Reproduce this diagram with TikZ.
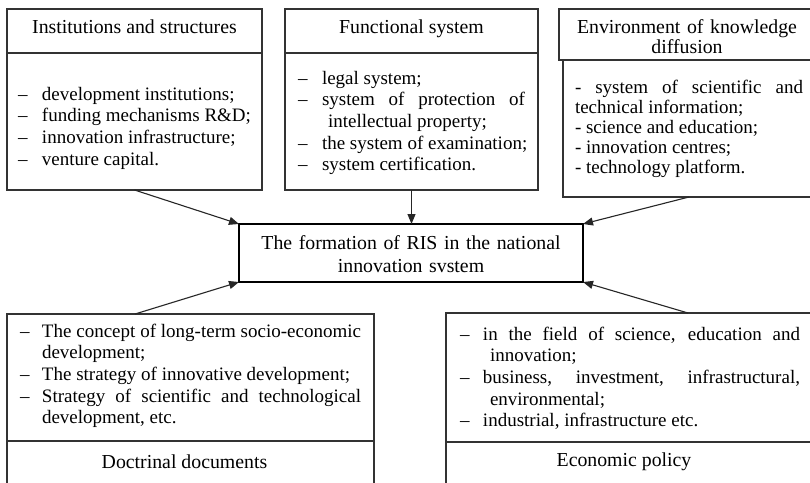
\documentclass[tikz,border=0pt]{standalone}
\usepackage{fontspec}
\setmainfont{Liberation Serif}
\usetikzlibrary{arrows.meta}
\hyphenpenalty=10000
\exhyphenpenalty=10000
\newcommand{\bodyfont}{\fontsize{19pt}{21.7pt}\selectfont\tolerance=10000\hyphenpenalty=10000\exhyphenpenalty=10000}
\newcommand{\envfont}{\fontsize{19pt}{20pt}\selectfont\tolerance=10000\hyphenpenalty=10000\exhyphenpenalty=10000}
\newcommand{\titlefont}{\fontsize{19.8pt}{20pt}\selectfont}
\newcommand{\centerfont}{\fontsize{19.8pt}{23pt}\selectfont}
\newcommand{\dashitem}[3]{\noindent\hangindent=#2\hangafter=1\makebox[#1][l]{–}#3\par}
\begin{document}
\begin{tikzpicture}[x=1pt,y=-1pt]
\tikzset{
  boxframe/.style={draw=black!80, line width=1.1pt, anchor=north west, inner ysep=0pt, outer sep=0pt},
  titlebox/.style={boxframe, font=\titlefont, align=center},
  listbox/.style={boxframe, font=\bodyfont, align=justify},
  mainbox/.style={draw=black, line width=2.2pt, anchor=north west, inner xsep=7pt, inner ysep=0pt, outer sep=0pt, text width=330pt, align=center, font=\centerfont},
  arrowline/.style={draw=black!85, line width=1.1pt, -{Triangle[length=10pt,width=8pt]}}
}
\useasboundingbox (0,0) rectangle (810,482);
\fill[white] (0,0) rectangle (810,482);
\clip (0,0) rectangle (810,482);

% top left
\node[titlebox, minimum width=255pt, text height=24pt, text depth=20pt] (t1) at (7,9) {Institutions and structures};
\node[listbox, inner xsep=11pt, text width=233pt, text height=47pt, text depth=90pt] (c1) at (7,53)
 {\dashitem{24pt}{24pt}{\mbox{development institutions;}}\dashitem{24pt}{24pt}{\mbox{funding mechanisms R\&D;}}\dashitem{24pt}{24pt}{\mbox{innovation infrastructure;}}\dashitem{24pt}{24pt}{\mbox{venture capital.}}};

% top middle
\node[titlebox, minimum width=253pt, text height=24pt, text depth=20pt] (t2) at (285,9) {Functional system};
\node[listbox, inner xsep=13pt, text width=227pt, text height=31pt, text depth=106pt] (c2) at (285,53)
 {\dashitem{24pt}{30pt}{\mbox{legal system;}}\dashitem{24pt}{30pt}{system of protection of\linebreak intellectual property;}\dashitem{24pt}{30pt}{\mbox{the system of examination;}}\dashitem{24pt}{30pt}{\mbox{system certification.}}};

% top right
\node[titlebox, inner xsep=8pt, text width=240pt, text height=24pt, text depth=27pt] (t3) at (559,9) {Environment of knowledge\\diffusion};
\node[listbox, font=\envfont, inner xsep=12pt, text width=228pt, text height=33pt, text depth=104pt] (c3) at (563,60)
 {\noindent - system of scientific and\linebreak technical information;\par\noindent\mbox{- science and education;}\par\noindent\mbox{- innovation centres;}\par\noindent\mbox{- technology platform.}\par};

% centre
\node[mainbox, text height=25pt, text depth=33pt] (m) at (239,224) {The formation of RIS in the national\\innovation svstem};

% bottom left
\node[listbox, inner xsep=13pt, text width=341pt, text height=23pt, text depth=104pt] (c4) at (7,314)
 {\dashitem{22pt}{22pt}{The concept of long-term socio-economic\linebreak development;}\dashitem{22pt}{22pt}{\mbox{The strategy of innovative development;}}\dashitem{22pt}{22pt}{Strategy of scientific and technological\linebreak development, etc.}};
\node[titlebox, minimum width=367pt, text height=27pt, text depth=27pt] (t4) at (7,441) {Doctrinal documents\hspace*{12pt}};

% bottom right
\node[listbox, inner xsep=14pt, text width=340pt, text height=27pt, text depth=102pt] (c5) at (446,313)
 {\dashitem{23pt}{30pt}{in the field of science, education and\linebreak innovation;}\dashitem{23pt}{30pt}{business, investment, infrastructural,\linebreak environmental;}\dashitem{23pt}{30pt}{\mbox{industrial, infrastructure etc.}}};
\node[titlebox, minimum width=368pt, text height=24pt, text depth=29pt] (t5) at (446,442) {Economic policy\hspace*{12pt}};

% connectors
\coordinate (s4) at ([xshift=128pt]c4.north west);
\coordinate (s5) at ([xshift=242pt]c5.north west);
\draw[arrowline] (c1.south) -- (m.north west);
\draw[arrowline] (c2.south) -- (c2.south |- m.north);
\draw[arrowline] (c3.south) -- (m.north east);
\draw[arrowline] (s4) -- (m.south west);
\draw[arrowline] (s5) -- (m.south east);
\end{tikzpicture}
\end{document}
